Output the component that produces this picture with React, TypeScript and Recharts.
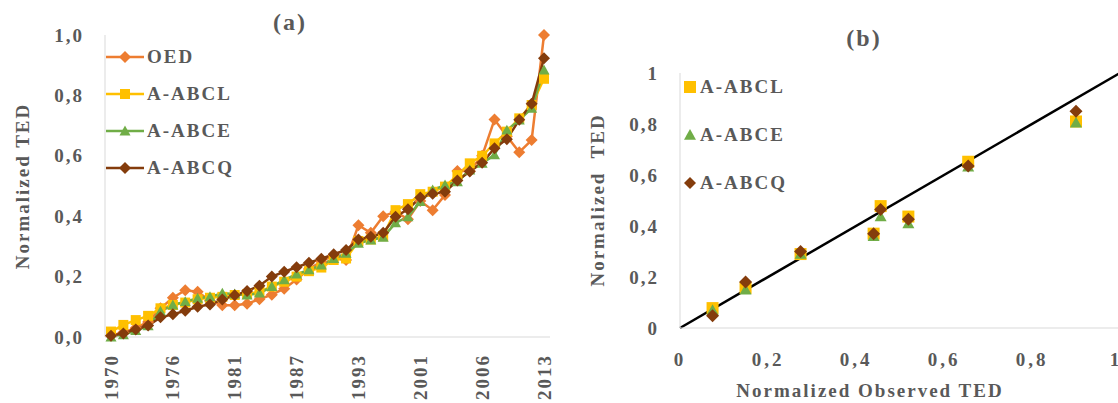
import React from "react"
import { LineChart, Line, ScatterChart, Scatter, XAxis, YAxis, ReferenceLine, Legend } from "recharts"

// (a) normalized TED per year
const years = [
  1970, 1971, 1972, 1974, 1975, 1976, 1977, 1978, 1979, 1980, 1981, 1982,
  1983, 1985, 1986, 1987, 1988, 1989, 1991, 1992, 1993, 1994, 1996, 1998,
  1999, 2001, 2002, 2003, 2004, 2005, 2006, 2007, 2008, 2010, 2011, 2013,
]
const oed = [
  0.005, 0.015, 0.03, 0.05, 0.095, 0.13, 0.155, 0.15, 0.12, 0.105, 0.105, 0.11,
  0.125, 0.14, 0.16, 0.19, 0.225, 0.25, 0.27, 0.255, 0.37, 0.345, 0.4, 0.415,
  0.39, 0.45, 0.42, 0.47, 0.55, 0.55, 0.6, 0.72, 0.665, 0.612, 0.652, 1.0,
]
const abcl = [
  0.018, 0.04, 0.056, 0.07, 0.095, 0.106, 0.114, 0.125, 0.13, 0.133, 0.139, 0.142,
  0.15, 0.167, 0.183, 0.2, 0.218, 0.23, 0.255, 0.26, 0.318, 0.323, 0.334, 0.42,
  0.44, 0.473, 0.481, 0.498, 0.536, 0.575, 0.6, 0.641, 0.68, 0.724, 0.768, 0.855,
]
const abce = [
  0.0, 0.007, 0.021, 0.037, 0.085, 0.106, 0.117, 0.128, 0.133, 0.145, 0.142, 0.139,
  0.145, 0.167, 0.189, 0.208, 0.222, 0.238, 0.26, 0.277, 0.31, 0.321, 0.33, 0.378,
  0.398, 0.448, 0.487, 0.503, 0.514, 0.553, 0.575, 0.603, 0.685, 0.718, 0.757, 0.884,
]
const abcq = [
  0.004, 0.012, 0.025, 0.038, 0.065, 0.075, 0.087, 0.1, 0.108, 0.124, 0.138, 0.152,
  0.17, 0.2, 0.216, 0.231, 0.246, 0.259, 0.274, 0.288, 0.323, 0.332, 0.345, 0.398,
  0.423, 0.462, 0.474, 0.481, 0.518, 0.548, 0.577, 0.625, 0.655, 0.719, 0.772, 0.923,
]

// (b) normalized observed vs modelled TED
const observed = [0.074, 0.149, 0.274, 0.44, 0.456, 0.519, 0.655, 0.9]
const abclFit = [0.078, 0.157, 0.29, 0.37, 0.478, 0.437, 0.652, 0.81]
const abceFit = [0.07, 0.15, 0.29, 0.36, 0.437, 0.41, 0.633, 0.805]
const abcqFit = [0.048, 0.18, 0.3, 0.37, 0.465, 0.426, 0.635, 0.85]

const ticks01 = [0, 0.2, 0.4, 0.6, 0.8, 1]

const FONT = '"Liberation Serif", "Times New Roman", serif'
const GREY = "#595959"
const AXIS = "#d9d9d9"

const lineSeries = [
  { key: "OED", values: oed, color: "#ED7D31", marker: "diamond" },
  { key: "A-ABCL", values: abcl, color: "#FFC000", marker: "square" },
  { key: "A-ABCE", values: abce, color: "#70AD47", marker: "triangle" },
  { key: "A-ABCQ", values: abcq, color: "#843C0C", marker: "diamond" },
]
const scatterSeries = lineSeries.slice(1).map((s, i) => ({
  ...s,
  points: observed.map((x, j) => ({ x, y: [abclFit, abceFit, abcqFit][i][j] })),
}))

const lineData = years.map((year, i) => {
  const row: any = { year }
  lineSeries.forEach((s) => (row[s.key] = s.values[i]))
  return row
})

const textStyle = { fontFamily: FONT, fontWeight: 700, fill: GREY, letterSpacing: 2 }

function Marker({ kind, cx, cy, size, color }: any) {
  const h = size / 2
  if (kind === "square") return <rect x={cx - h} y={cy - h} width={size} height={size} fill={color} />
  if (kind === "triangle")
    return <polygon points={`${cx},${cy - h} ${cx + h},${cy + h * 0.8} ${cx - h},${cy + h * 0.8}`} fill={color} />
  return <polygon points={`${cx},${cy - h} ${cx + h},${cy} ${cx},${cy + h} ${cx - h},${cy}`} fill={color} />
}

const markerSize = (kind: string) => (kind === "diamond" ? 12 : kind === "square" ? 10 : 11)

const comma = (v: number) => (v === 0 || v === 1 ? String(v) : String(v).replace(".", ","))

function YearTick({ x, y, payload }: any) {
  return (
    <text x={x} y={y + 15} transform={`rotate(-90 ${x} ${y + 15})`} textAnchor="end" dominantBaseline="central" fontSize={19} {...textStyle}>
      {payload.value}
    </text>
  )
}

function LeftTickA({ x, y, payload }: any) {
  return (
    <text x={x - 19} y={y} textAnchor="end" dominantBaseline="central" fontSize={19} {...textStyle}>
      {payload.value.toFixed(1).replace(".", ",")}
    </text>
  )
}

function LeftTickB({ x, y, payload }: any) {
  return (
    <text x={x - 19} y={y} textAnchor="end" dominantBaseline="central" fontSize={19} {...textStyle}>
      {comma(payload.value)}
    </text>
  )
}

function BottomTickB({ x, y, payload }: any) {
  return (
    <text x={x} y={y + 29} textAnchor="middle" dominantBaseline="central" fontSize={19} {...textStyle} letterSpacing={3}>
      {comma(payload.value)}
    </text>
  )
}

function LegendA() {
  return (
    <div style={{ fontFamily: FONT, fontWeight: 700, color: GREY, fontSize: 19, letterSpacing: 2 }}>
      {lineSeries.map((s) => (
        <div key={s.key} style={{ display: "flex", alignItems: "center", height: 37 }}>
          <svg width={38} height={14} style={{ marginRight: 3 }}>
            <line x1={0} y1={7} x2={38} y2={7} stroke={s.color} strokeWidth={2.5} />
            <Marker kind={s.marker} cx={19} cy={7} size={markerSize(s.marker)} color={s.color} />
          </svg>
          <span>{s.key}</span>
        </div>
      ))}
    </div>
  )
}

function LegendB() {
  return (
    <div style={{ fontFamily: FONT, fontWeight: 700, color: GREY, fontSize: 19, letterSpacing: 2 }}>
      {scatterSeries.map((s) => (
        <div key={s.key} style={{ display: "flex", alignItems: "center", height: 48 }}>
          <svg width={14} height={14} style={{ marginRight: 3 }}>
            <Marker kind={s.marker} cx={7} cy={7} size={12} color={s.color} />
          </svg>
          <span>{s.key}</span>
        </div>
      ))}
    </div>
  )
}

export default function App() {
  return (
    <div style={{ position: "absolute", left: 0, top: 0, width: 1118, height: 403, overflow: "hidden", background: "#fff" }}>
      <div style={{ position: "absolute", left: 0, top: 0 }}>
        <LineChart width={560} height={403} data={lineData} margin={{ top: 35, right: 10, bottom: 0, left: 0 }}>
          <XAxis
            dataKey="year"
            interval={4}
            height={66}
            padding={{ left: 6, right: 6 }}
            stroke={AXIS}
            tickLine={false}
            tickSize={0}
            tick={<YearTick />}
          />
          <YAxis
            type="number"
            domain={[0, 1]}
            ticks={ticks01}
            width={105}
            stroke={AXIS}
            tickLine={false}
            tickSize={0}
            tick={<LeftTickA />}
            label={{
              content: () => (
                <text x={22} y={186} transform="rotate(-90 22 186)" textAnchor="middle" dominantBaseline="central" fontSize={19} {...textStyle}>
                  Normalized TED
                </text>
              ),
            }}
          />
          {lineSeries.map((s) => (
            <Line
              key={s.key}
              dataKey={s.key}
              type="linear"
              stroke={s.color}
              strokeWidth={2.5}
              isAnimationActive={false}
              activeDot={false}
              dot={(p: any) => (
                <Marker key={`${s.key}-${p.index}`} kind={s.marker} cx={p.cx} cy={p.cy} size={markerSize(s.marker)} color={s.color} />
              )}
            />
          ))}
          <Legend
            layout="vertical"
            align="center"
            verticalAlign="middle"
            content={<LegendA />}
            wrapperStyle={{ left: 106, top: 38, width: "auto", height: "auto" }}
          />
          <text x={290} y={30} textAnchor="middle" fontSize={24} {...textStyle}>
            (a)
          </text>
        </LineChart>
      </div>
      <div style={{ position: "absolute", left: 560, top: 0 }}>
        <ScatterChart width={560} height={403} margin={{ top: 73, right: 0, bottom: 0, left: 0 }}>
          <XAxis
            type="number"
            dataKey="x"
            domain={[0, 1]}
            ticks={ticks01}
            height={75}
            stroke={AXIS}
            tickLine={false}
            tickSize={0}
            tick={<BottomTickB />}
            label={{
              content: () => (
                <text x={310} y={397} textAnchor="middle" fontSize={19} {...textStyle}>
                  Normalized Observed TED
                </text>
              ),
            }}
          />
          <YAxis
            type="number"
            dataKey="y"
            domain={[0, 1]}
            ticks={ticks01}
            width={120}
            stroke={AXIS}
            tickLine={false}
            tickSize={0}
            tick={<LeftTickB />}
            label={{
              content: () => (
                <text x={37} y={200} transform="rotate(-90 37 200)" textAnchor="middle" dominantBaseline="central" fontSize={19} {...textStyle} style={{ whiteSpace: "pre" }}>
                  {"Normalized  TED"}
                </text>
              ),
            }}
          />
          <ReferenceLine segment={[{ x: 0, y: 0 }, { x: 1, y: 1 }]} stroke="#000" strokeWidth={2.5} />
          {scatterSeries.map((s) => (
            <Scatter
              key={s.key}
              name={s.key}
              data={s.points}
              isAnimationActive={false}
              shape={(p: any) => <Marker kind={s.marker} cx={p.cx} cy={p.cy} size={s.marker === "diamond" ? 13 : 12} color={s.color} />}
            />
          ))}
          <Legend
            layout="vertical"
            align="center"
            verticalAlign="middle"
            content={<LegendB />}
            wrapperStyle={{ left: 123, top: 63, width: "auto", height: "auto" }}
          />
          <text x={304} y={46} textAnchor="middle" fontSize={24} {...textStyle}>
            (b)
          </text>
        </ScatterChart>
      </div>
    </div>
  )
}
